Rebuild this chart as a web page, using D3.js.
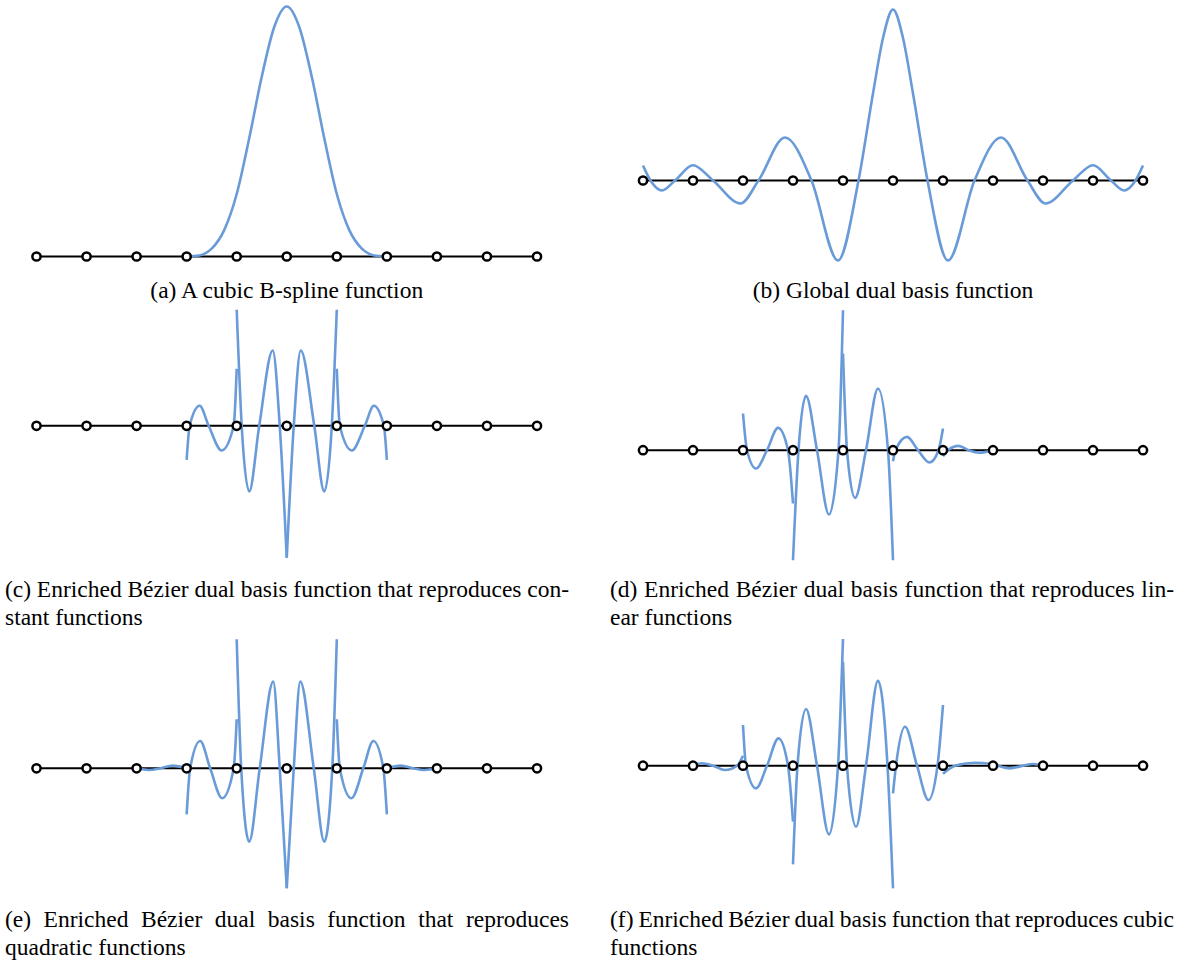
<!DOCTYPE html>
<html>
<head>
<meta charset="utf-8">
<script src="https://cdn.jsdelivr.net/npm/d3@7"></script>
<style>
  html, body { margin: 0; background: #fff; }
  svg { display: block; }
</style>
</head>
<body>
<svg id="fig" width="1182" height="963"></svg>
<script>
// Knot indices of the uniform knot vector (11 knots, 10 spans)
const knots = d3.range(0, 11);

// Each function is a list of pieces; a piece is a list of [u, value] samples
// (u in knot units). Discontinuous functions get one piece per knot span.

// (a) cubic B-spline supported on knots 3..7
const bsplineA = [
  [[3,0],[3.25,0.0026],[3.5,0.0208],[3.75,0.0703],[4,0.1667],[4.25,0.3151],[4.5,0.4792],
   [4.75,0.6120],[5,0.6667],[5.25,0.6120],[5.5,0.4792],[5.75,0.3151],[6,0.1667],
   [6.25,0.0703],[6.5,0.0208],[6.75,0.0026],[7,0]]
];

// (b) global dual basis function (non-zero over the whole knot vector)
const dualGlobalB = [
  [[0,0.040],[0.15,0],[0.38,-0.0267],[0.64,0],[1.0,0.0408],[1.40,0],[1.95,-0.0613],[2.31,0],
   [2.84,0.1147],[3.37,0],[3.90,-0.2133],[4.31,0],[4.6,0.232],[4.8,0.38],[5.0,0.456],
   [5.2,0.38],[5.4,0.232],[5.69,0],[6.10,-0.2133],[6.63,0],[7.16,0.1147],[7.69,0],
   [8.05,-0.0613],[8.60,0],[9.0,0.0408],[9.36,0],[9.62,-0.0267],[9.85,0],[10,0.040]]
];

// (c) enriched Bezier dual, reproduces constants
const dualConstC = [
  [[3.0,-0.0907],[3.06,0],[3.26,0.0533],[3.44,0],[3.70,-0.0659],[3.94,0],[4.0,0.152]],
  [[4.0,0.3093],[4.10,0],[4.25,-0.1752],[4.45,0],[4.72,0.2008],[4.86,0],[5.0,-0.352]],
  [[5.0,-0.352],[5.14,0],[5.28,0.2008],[5.55,0],[5.75,-0.1752],[5.90,0],[6.0,0.3093]],
  [[6.0,0.152],[6.06,0],[6.30,-0.0659],[6.56,0],[6.74,0.0533],[6.94,0],[7.0,-0.0907]]
];

// (d) enriched Bezier dual, reproduces linear functions
const dualLinearD = [
  [[2.0,0.0979],[2.08,0],[2.26,-0.0488],[2.48,0],[2.70,0.0595],[2.90,0],[3.0,-0.1421]],
  [[3.0,-0.2933],[3.11,0],[3.26,0.1448],[3.48,0],[3.72,-0.1715],[3.91,0],[4.0,0.3733]],
  [[4.0,0.2579],[4.08,0],[4.24,-0.1272],[4.46,0],[4.70,0.1645],[4.90,0],[5.0,-0.2933]],
  [[5.0,-0.0293],[5.05,0],[5.28,0.0355],[5.50,0],[5.73,-0.0328],[5.91,0],[6.0,0.0579]],
  [[6.0,-0.016],[6.1,0],[6.31,0.0115],[6.51,0],[6.72,-0.0067],[7.0,0]]
];

// (e) enriched Bezier dual, reproduces quadratics
const dualQuadE = [
  [[2.0,0],[2.25,-0.0045],[2.48,0],[2.72,0.0072],[3.0,0]],
  [[3.0,-0.1227],[3.07,0],[3.27,0.0728],[3.47,0],[3.71,-0.08],[3.94,0],[4.0,0.1307]],
  [[4.0,0.344],[4.09,0],[4.25,-0.1955],[4.46,0],[4.73,0.2312],[4.86,0],[5.0,-0.32]],
  [[5.0,-0.32],[5.14,0],[5.27,0.2312],[5.54,0],[5.75,-0.1955],[5.91,0],[6.0,0.344]],
  [[6.0,0.1307],[6.06,0],[6.29,-0.08],[6.53,0],[6.73,0.0728],[6.93,0],[7.0,-0.1227]],
  [[7.0,0],[7.28,0.0072],[7.52,0],[7.75,-0.0045],[8.0,0]]
];

// (f) enriched Bezier dual, reproduces cubics
const dualCubicF = [
  [[1.0,0],[1.18,0.0067],[1.4,0],[1.64,-0.0115],[1.88,0],[2.0,0.0267]],
  [[2.0,0.1085],[2.06,0],[2.26,-0.0605],[2.48,0],[2.71,0.0728],[2.90,0],[3.0,-0.1493]],
  [[3.0,-0.2632],[3.09,0],[3.26,0.1512],[3.48,0],[3.72,-0.1832],[3.90,0],[4.0,0.3379]],
  [[4.0,0.2773],[4.08,0],[4.26,-0.1627],[4.46,0],[4.70,0.2267],[4.89,0],[5.0,-0.3272]],
  [[5.0,-0.0739],[5.06,0],[5.24,0.104],[5.48,0],[5.71,-0.0915],[5.89,0],[6.0,0.1619]],
  [[6.0,-0.0213],[6.24,0],[6.64,0.008],[7.0,0.0045]],
  [[7.0,0.0045],[7.1,0],[7.34,-0.0072],[7.6,0],[7.8,0.0045],[8.0,0]]
];

// Sub-figure captions (each entry is one typeset line)
const captionA = ["(a) A cubic B-spline function"];
const captionB = ["(b) Global dual basis function"];
const captionC = ["(c) Enriched Bézier dual basis function that reproduces con-", "stant functions"];
const captionD = ["(d) Enriched Bézier dual basis function that reproduces lin-", "ear functions"];
const captionE = ["(e) Enriched Bézier dual basis function that reproduces", "quadratic functions"];
const captionF = ["(f) Enriched Bézier dual basis function that reproduces cubic", "functions"];

// ---- layout ----
const columns = [
  { axis: [36.5, 537], text: [5, 569] },
  { axis: [643, 1143], text: [610, 1174] }
];
const pxPerUnit = 375;
const panels = [
  { col: 0, base: 256.5, fn: bsplineA,    cap: captionA, capY: 298, center: true },
  { col: 1, base: 180.5, fn: dualGlobalB, cap: captionB, capY: 298, center: true },
  { col: 0, base: 425.8, fn: dualConstC,  cap: captionC, capY: 597 },
  { col: 1, base: 450.2, fn: dualLinearD, cap: captionD, capY: 597 },
  { col: 0, base: 768.3, fn: dualQuadE,   cap: captionE, capY: 927 },
  { col: 1, base: 765.7, fn: dualCubicF,  cap: captionF, capY: 927 }
];

const BLUE = "#6a9bd9";
const FONT = "'Liberation Serif', 'Times New Roman', Times, serif";
const FONT_SIZE = 23.5;
const LINE_GAP = 28;

const svg = d3.select("#fig");

panels.forEach(p => {
  const c = columns[p.col];
  const x = d3.scaleLinear().domain([0, 10]).range(c.axis);
  const y = d3.scaleLinear().domain([0, 1]).range([p.base, p.base - pxPerUnit]);
  const g = svg.append("g");

  // knot line
  g.append("line")
    .attr("x1", x(knots[0])).attr("x2", x(knots[knots.length - 1]))
    .attr("y1", y(0)).attr("y2", y(0))
    .attr("stroke", "#000").attr("stroke-width", 2.1);

  // function pieces
  const line = d3.line().x(d => x(d[0])).y(d => y(d[1])).curve(d3.curveMonotoneX);
  g.selectAll("path.fn").data(p.fn).join("path")
    .attr("class", "fn")
    .attr("d", line)
    .attr("fill", "none")
    .attr("stroke", BLUE)
    .attr("stroke-width", 2.6)
    .attr("stroke-linecap", "butt")
    .attr("stroke-linejoin", "round");

  // knots
  g.selectAll("circle").data(knots).join("circle")
    .attr("cx", d => x(d)).attr("cy", y(0)).attr("r", 4.1)
    .attr("fill", "#fff").attr("stroke", "#000").attr("stroke-width", 2.5);

  // caption
  p.cap.forEach((txt, i) => {
    const ty = p.capY + i * LINE_GAP;
    if (p.center) {
      g.append("text")
        .attr("x", (c.axis[0] + c.axis[1]) / 2).attr("y", ty)
        .attr("text-anchor", "middle")
        .style("font-family", FONT).style("font-size", FONT_SIZE + "px")
        .text(txt);
    } else if (i < p.cap.length - 1) {
      // justified line: spread words across the column width
      const words = txt.split(" ");
      const nodes = words.map(w => g.append("text")
        .attr("y", ty)
        .style("font-family", FONT).style("font-size", FONT_SIZE + "px")
        .text(w));
      const widths = nodes.map(n => n.node().getComputedTextLength());
      const total = d3.sum(widths);
      const gap = (c.text[1] - c.text[0] - total) / (words.length - 1);
      let cx = c.text[0];
      nodes.forEach((n, k) => { n.attr("x", cx); cx += widths[k] + gap; });
    } else {
      g.append("text")
        .attr("x", c.text[0]).attr("y", ty)
        .style("font-family", FONT).style("font-size", FONT_SIZE + "px")
        .text(txt);
    }
  });
});
</script>
</body>
</html>
